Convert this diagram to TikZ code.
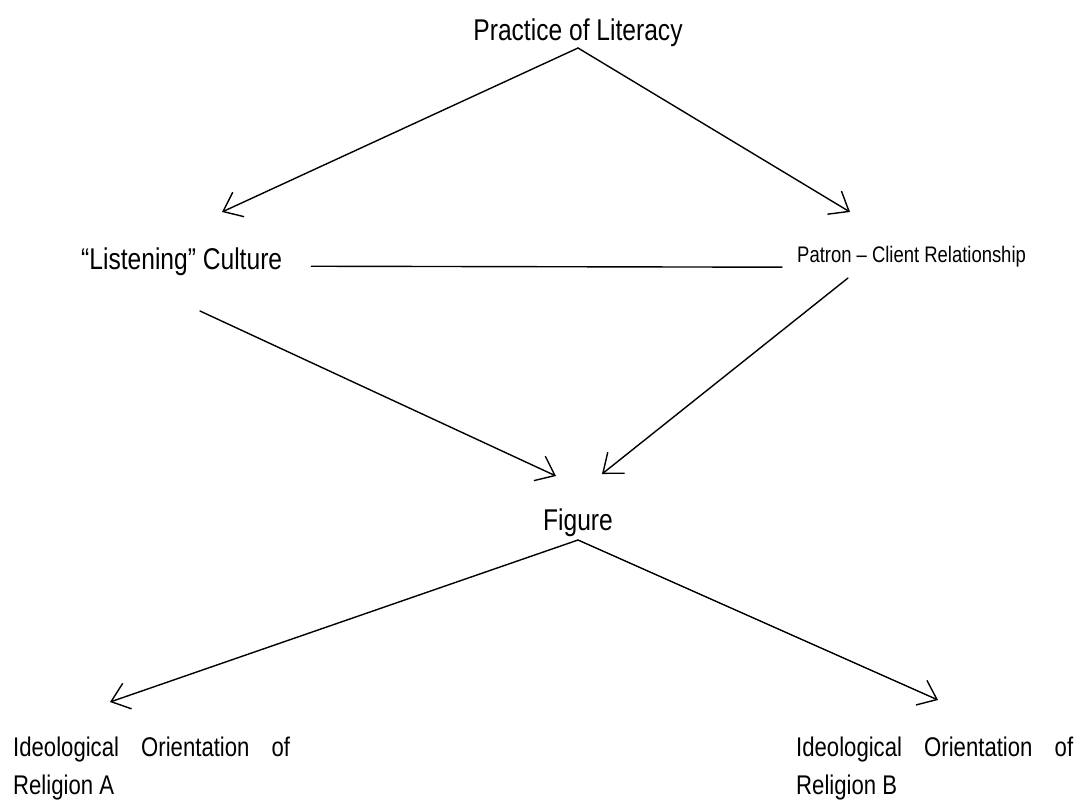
\documentclass[tikz,border=0pt]{standalone}
\usepackage{fontspec}
\setmainfont{Liberation Sans}[FakeStretch=0.82]
\usetikzlibrary{arrows.meta}

\begin{document}
\begin{tikzpicture}[x=1pt, y=-1pt,
  concept/.style={font=\fontsize{30}{38}\selectfont, inner sep=0pt, anchor=base},
  smallconcept/.style={font=\fontsize{22.5}{28}\selectfont, inner sep=0pt, anchor=base},
  religion/.style={font=\fontsize{27}{38}\selectfont, inner sep=0pt, text width=277pt,
    align=justify, anchor=north west},
  link/.style={line width=1.4pt, line cap=round},
  arr/.style={link, -{Straight Barb[length=17pt, width=27pt, line width=1.4pt]}}
]
\useasboundingbox (0,0) rectangle (1079,801);

% concepts
\node[concept] (lit) at (578,40) {Practice of Literacy};
\node[concept, anchor=base west] (listen) at (81,269) {``Listening'' Culture};
\node[smallconcept, anchor=base west] (patron) at (797,262) {Patron -- Client Relationship};
\node[concept] (fig) at (578,530) {Figure};
\node[religion] (relA) at (13,737) {Ideological Orientation of\linebreak Religion A};
\node[religion] (relB) at (796,737) {Ideological Orientation of\linebreak Religion B};

% arrow ends
\coordinate (lit-out) at (578,48);
\coordinate (listen-in) at (222,212);
\coordinate (listen-out) at (200,311);
\coordinate (patron-in) at (850,212);
\coordinate (patron-out) at (848,278);
\coordinate (fig-inL) at (556,476);
\coordinate (fig-inR) at (602,474);
\coordinate (fig-out) at (578,540);
\coordinate (relA-in) at (110,702);
\coordinate (relB-in) at (938,700);

\draw[arr] (lit-out) -- (listen-in);
\draw[arr] (lit-out) -- (patron-in);
\draw[link] (listen.east) ++(29,5) -- ([xshift=-15pt,yshift=-11pt]patron.west);
\draw[arr] (listen-out) -- (fig-inL);
\draw[arr] (patron-out) -- (fig-inR);
\draw[arr] (fig-out) -- (relA-in);
\draw[arr] (fig-out) -- (relB-in);
\end{tikzpicture}
\end{document}
